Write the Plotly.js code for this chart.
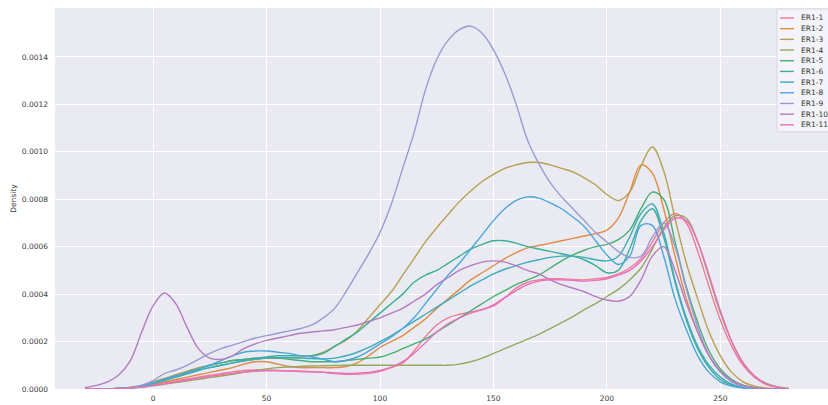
<!DOCTYPE html>
<html>
<head>
<meta charset="utf-8">
<script src="https://cdn.plot.ly/plotly-3.0.1.min.js"></script>
<style>html,body{margin:0;padding:0;background:#fff;}#chart{width:828px;height:405px;}</style>
</head>
<body>
<div id="chart"></div>
<script>
// density values are given in units of 1e-3
const SCALE = 1e-3;
const xGrid = [-30,-25,-20,-15,-10,-5,0,5,10,15,20,25,30,35,40,45,50,55,60,65,70,75,80,85,90,95,100,105,110,115,120,125,130,135,140,145,150,155,160,165,170,175,180,185,190,195,200,205,210,215,220,225,230,235,240,245,250,255,260,265,270,275,280];

const seriesNames = ['ER1-1','ER1-2','ER1-3','ER1-4','ER1-5','ER1-6','ER1-7','ER1-8','ER1-9','ER1-10','ER1-11'];
const seriesColors = ['#ef7a95','#e38a45','#b9a050','#95a860','#45b071','#3aaf98','#3eacbc','#4aa6da','#9a9ad6','#b37cc0','#ea6fbe'];

const er1_1 = [0,0,0,0.002,0.005,0.01,0.018,0.026,0.034,0.042,
  0.05,0.058,0.065,0.072,0.078,0.08,0.08,0.078,0.076,0.074,
  0.072,0.07,0.065,0.062,0.062,0.066,0.075,0.09,0.11,0.16,
  0.22,0.27,0.3,0.315,0.325,0.335,0.35,0.385,0.425,0.45,
  0.46,0.465,0.465,0.462,0.46,0.465,0.47,0.485,0.51,0.55,
  0.62,0.7,0.74,0.7,0.58,0.43,0.29,0.18,0.1,0.05,
  0.02,0.007,0];
const er1_2 = [0,0,0,0.002,0.005,0.01,0.02,0.03,0.04,0.05,
  0.06,0.07,0.08,0.09,0.105,0.115,0.115,0.105,0.095,0.09,
  0.09,0.09,0.09,0.095,0.11,0.14,0.175,0.2,0.225,0.26,
  0.295,0.34,0.38,0.42,0.46,0.49,0.52,0.55,0.575,0.595,
  0.605,0.615,0.625,0.635,0.645,0.655,0.67,0.72,0.83,0.945,
  0.91,0.76,0.56,0.38,0.24,0.14,0.075,0.035,0.014,0.005,
  0,0,0];
const er1_3 = [0,0,0,0.003,0.008,0.015,0.03,0.045,0.06,0.075,
  0.09,0.1,0.11,0.12,0.125,0.13,0.13,0.13,0.13,0.135,
  0.14,0.155,0.18,0.205,0.245,0.3,0.355,0.41,0.48,0.55,
  0.62,0.68,0.735,0.79,0.835,0.875,0.905,0.93,0.945,0.955,
  0.955,0.945,0.93,0.915,0.89,0.86,0.82,0.795,0.83,0.94,
  1.02,0.92,0.72,0.53,0.38,0.24,0.14,0.07,0.03,0.012,
  0.004,0,0];
const er1_4 = [0,0,0,0.001,0.003,0.007,0.013,0.02,0.027,0.034,
  0.041,0.048,0.055,0.062,0.07,0.078,0.085,0.09,0.093,0.095,
  0.097,0.098,0.099,0.1,0.1,0.1,0.1,0.1,0.1,0.1,
  0.1,0.1,0.1,0.105,0.115,0.13,0.15,0.17,0.19,0.21,
  0.23,0.255,0.28,0.305,0.335,0.36,0.39,0.42,0.46,0.51,
  0.59,0.68,0.73,0.72,0.62,0.47,0.32,0.2,0.11,0.055,
  0.025,0.01,0.003];
const er1_5 = [0,0,0,0.002,0.006,0.012,0.025,0.04,0.05,0.065,
  0.08,0.09,0.1,0.11,0.12,0.125,0.13,0.13,0.125,0.12,
  0.115,0.115,0.115,0.12,0.125,0.13,0.135,0.15,0.17,0.19,
  0.21,0.24,0.27,0.3,0.33,0.36,0.39,0.415,0.44,0.46,
  0.48,0.51,0.54,0.565,0.585,0.6,0.61,0.63,0.67,0.76,
  0.83,0.8,0.62,0.43,0.28,0.16,0.085,0.04,0.016,0.006,
  0,0,0];
const er1_6 = [0,0,0,0.002,0.006,0.012,0.025,0.04,0.055,0.07,
  0.085,0.1,0.11,0.12,0.125,0.13,0.135,0.14,0.14,0.14,
  0.14,0.15,0.18,0.21,0.24,0.28,0.32,0.36,0.4,0.45,
  0.48,0.5,0.53,0.56,0.59,0.61,0.625,0.625,0.615,0.6,
  0.59,0.58,0.57,0.56,0.545,0.52,0.49,0.5,0.59,0.71,
  0.76,0.64,0.45,0.29,0.17,0.09,0.04,0.016,0.005,0,
  0,0,0];
const er1_7 = [0,0,0,0.002,0.005,0.011,0.022,0.036,0.05,0.064,
  0.078,0.09,0.1,0.11,0.118,0.125,0.13,0.132,0.132,0.13,
  0.128,0.127,0.13,0.14,0.155,0.175,0.2,0.225,0.255,0.285,
  0.315,0.345,0.375,0.405,0.435,0.46,0.485,0.505,0.52,0.535,
  0.545,0.555,0.56,0.56,0.555,0.545,0.54,0.56,0.64,0.74,
  0.78,0.66,0.46,0.3,0.18,0.1,0.05,0.02,0.007,0,
  0,0,0];
const er1_8 = [0,0,0,0.002,0.006,0.012,0.025,0.04,0.055,0.07,
  0.085,0.1,0.12,0.14,0.155,0.16,0.16,0.155,0.15,0.14,
  0.135,0.125,0.115,0.12,0.135,0.16,0.19,0.22,0.255,0.3,
  0.36,0.42,0.48,0.53,0.59,0.65,0.71,0.76,0.795,0.81,
  0.805,0.785,0.76,0.725,0.685,0.625,0.565,0.525,0.56,0.69,
  0.69,0.56,0.38,0.25,0.14,0.07,0.03,0.012,0.004,0,
  0,0,0];
const er1_9 = [0,0,0,0.002,0.006,0.016,0.035,0.065,0.08,0.1,
  0.125,0.15,0.17,0.185,0.2,0.215,0.225,0.235,0.245,0.255,
  0.27,0.3,0.34,0.41,0.49,0.57,0.66,0.78,0.93,1.08,
  1.26,1.39,1.47,1.515,1.53,1.5,1.43,1.33,1.2,1.05,
  0.95,0.87,0.81,0.76,0.71,0.66,0.62,0.58,0.555,0.56,
  0.64,0.7,0.6,0.42,0.26,0.14,0.07,0.03,0.01,0.003,
  0,0,0];
const er1_10 = [0.005,0.015,0.03,0.06,0.12,0.24,0.35,0.405,0.36,0.26,
  0.17,0.13,0.125,0.14,0.17,0.19,0.205,0.215,0.225,0.235,
  0.24,0.245,0.25,0.26,0.27,0.285,0.3,0.32,0.34,0.37,
  0.4,0.44,0.47,0.5,0.52,0.535,0.54,0.535,0.52,0.5,
  0.485,0.46,0.44,0.425,0.41,0.39,0.375,0.37,0.39,0.46,
  0.56,0.6,0.5,0.36,0.24,0.14,0.075,0.035,0.015,0.005,
  0,0,0];
const er1_11 = [0,0,0,0.002,0.004,0.008,0.015,0.022,0.03,0.038,
  0.046,0.054,0.06,0.066,0.071,0.075,0.077,0.077,0.076,0.075,
  0.073,0.071,0.068,0.066,0.067,0.07,0.078,0.092,0.115,0.15,
  0.195,0.24,0.275,0.3,0.32,0.335,0.355,0.385,0.415,0.44,
  0.455,0.46,0.46,0.458,0.455,0.458,0.465,0.48,0.5,0.54,
  0.6,0.67,0.72,0.71,0.62,0.48,0.33,0.2,0.11,0.055,
  0.022,0.008,0];

const seriesValues = [er1_1, er1_2, er1_3, er1_4, er1_5, er1_6, er1_7, er1_8, er1_9, er1_10, er1_11];

const xTicks = [0, 50, 100, 150, 200, 250];
const yTicks = [0, 0.0002, 0.0004, 0.0006, 0.0008, 0.0010, 0.0012, 0.0014];

const traces = seriesNames.map((name, i) => ({
  type: 'scatter', mode: 'lines', name: name,
  x: xGrid,
  y: seriesValues[i].map(v => v * SCALE),
  line: {color: seriesColors[i], width: 1.4, shape: 'spline', smoothing: 1.0},
  hoverinfo: 'skip'
}));

// manual legend (box + sample lines + labels), positioned in paper coordinates
const plotL = 55, plotW = 773, plotB = 389.5, plotH = 381.5;
const px2x = p => (p - plotL) / plotW;
const py2y = p => (plotB - p) / plotH;
const shapes = [{
  type: 'rect', xref: 'paper', yref: 'paper',
  x0: px2x(777), x1: px2x(845), y0: py2y(132), y1: py2y(9),
  fillcolor: 'rgba(244,244,249,0.9)', line: {color: '#d2d2dc', width: 0.8}
}];
const annotations = [];
seriesNames.forEach((name, i) => {
  const py = 18 + 10.7 * i;
  shapes.push({type: 'line', xref: 'paper', yref: 'paper',
    x0: px2x(780), x1: px2x(794), y0: py2y(py), y1: py2y(py),
    line: {color: seriesColors[i], width: 1.4}});
  annotations.push({xref: 'paper', yref: 'paper', x: px2x(799), y: py2y(py),
    xanchor: 'left', yanchor: 'middle', showarrow: false, text: name,
    font: {family: 'DejaVu Sans', size: 7.5, color: '#333333'}});
});

const layout = {
  width: 828, height: 405,
  margin: {l: 55, r: 0, t: 8, b: 15.5, pad: 0},
  paper_bgcolor: '#ffffff', plot_bgcolor: '#EAEAF2',
  font: {family: 'DejaVu Sans', size: 7.5, color: '#3a3a3a'},
  showlegend: false,
  xaxis: {
    range: [-43.2, 297.4], tickvals: xTicks, ticktext: xTicks.map(String),
    showgrid: true, gridcolor: '#ffffff', gridwidth: 1, zeroline: false, showline: false,
    ticks: '', tickfont: {size: 7.5, color: '#3a3a3a'}, ticklabelstandoff: 3
  },
  yaxis: {
    range: [0, 0.0016063], tickvals: yTicks, tickformat: '.4f',
    showgrid: true, gridcolor: '#ffffff', gridwidth: 1, zeroline: false, showline: false,
    ticks: '', tickfont: {size: 7.5, color: '#3a3a3a'}, ticklabelstandoff: 6,
    title: {text: 'Density', font: {size: 7.5, color: '#3a3a3a'}, standoff: 4}
  },
  shapes: shapes,
  annotations: annotations
};

Plotly.newPlot('chart', traces, layout, {displayModeBar: false, staticPlot: true});
</script>
</body>
</html>
